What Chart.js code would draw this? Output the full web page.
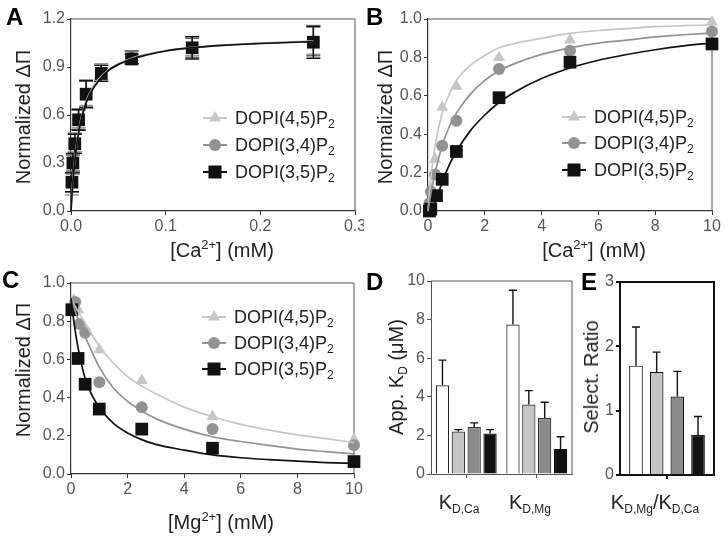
<!DOCTYPE html>
<html>
<head>
<meta charset="utf-8">
<title>DOPI-P2 cation binding</title>
<script src="https://cdn.jsdelivr.net/npm/chart.js@4.4.1/dist/chart.umd.min.js"></script>
<style>
  body { margin: 0; background: #fff; }
  #fig { position: relative; width: 728px; height: 537px; overflow: hidden;
         font-family: "Liberation Sans", Arial, sans-serif; color: #222; }
  #fig canvas { position: absolute; }
  .t { position: absolute; white-space: nowrap; font-size: 20px; line-height: 1; }
  .c { transform: translate(-50%, -50%); }
  .r { transform: translate(-50%, -50%) rotate(-90deg); }
  .panel { position: absolute; font-size: 24px; font-weight: bold; color: #000; line-height: 1; }
  .leg { position: absolute; font-size: 18px; line-height: 1; white-space: nowrap;
         display: flex; align-items: center; }
  .leg svg { margin-right: 7px; }
  sub { font-size: 12px; vertical-align: -4px; line-height: 0; }
  sup { font-size: 13px; vertical-align: 8px; line-height: 0; }
</style>
</head>
<body>
<div id="fig">
  <canvas id="cA" width="364" height="268" style="left:0;top:0"></canvas>
  <canvas id="cB" width="364" height="268" style="left:364px;top:0"></canvas>
  <canvas id="cC" width="364" height="269" style="left:0;top:268px"></canvas>
  <canvas id="cD" width="218" height="269" style="left:364px;top:268px"></canvas>
  <canvas id="cE" width="146" height="269" style="left:582px;top:268px"></canvas>

  <div class="panel" style="left:6px;top:5px">A</div>
  <div class="panel" style="left:366px;top:5px">B</div>
  <div class="panel" style="left:2px;top:268px">C</div>
  <div class="panel" style="left:366px;top:270px">D</div>
  <div class="panel" style="left:581px;top:270px">E</div>

  <div class="t r" style="left:23px;top:117px">Normalized ΔΠ</div>
  <div class="t c" style="left:222px;top:250px">[Ca<sup>2+</sup>] (mM)</div>
  <div class="t r" style="left:385px;top:117px">Normalized ΔΠ</div>
  <div class="t c" style="left:594px;top:250px">[Ca<sup>2+</sup>] (mM)</div>
  <div class="t r" style="left:23px;top:370px">Normalized ΔΠ</div>
  <div class="t c" style="left:221px;top:522px">[Mg<sup>2+</sup>] (mM)</div>
  <div class="t r" style="left:396px;top:377px">App. K<sub>D</sub> (μM)</div>
  <div class="t c" style="left:459px;top:502px">K<sub>D,Ca</sub></div>
  <div class="t c" style="left:530px;top:502px">K<sub>D,Mg</sub></div>
  <div class="t r" style="left:591px;top:377px">Select. Ratio</div>
  <div class="t c" style="left:655px;top:502px">K<sub>D,Mg</sub>/K<sub>D,Ca</sub></div>
</div>

<script>
Chart.defaults.font.family = '"Liberation Sans", Arial, sans-serif';
Chart.defaults.animation = false;

// series names + colours (triangle / circle / square)
const names = ['DOPI(4,5)P', 'DOPI(3,4)P', 'DOPI(3,5)P'];
const cLight = '#c6c6c6', cMid = '#929292', cDark = '#111111';

// ---------- A : low [Ca2+] ----------
const aCa = [0.001, 0.002, 0.004, 0.008, 0.016, 0.032, 0.064, 0.128, 0.256];
const a45 = [0.17, 0.29, 0.43, 0.58, 0.74, 0.87, 0.97, 1.03, 1.07];
const a45Err = [0.07, 0.06, 0.06, 0.06, 0.08, 0.05, 0.03, 0.06, 0.09];
const a34 = [0.18, 0.30, 0.42, 0.57, 0.73, 0.86, 0.96, 1.02, 1.06];
const a34Err = [0.06, 0.05, 0.06, 0.06, 0.08, 0.05, 0.04, 0.06, 0.09];
const a35 = [0.18, 0.30, 0.42, 0.57, 0.73, 0.86, 0.95, 1.02, 1.055];
const a35Err = [0.06, 0.06, 0.06, 0.065, 0.085, 0.05, 0.03, 0.07, 0.1];
// fitted curves
const aFitX = [0, 0.001, 0.002, 0.004, 0.006, 0.008, 0.01, 0.015, 0.02, 0.03, 0.04, 0.05, 0.064, 0.08, 0.1, 0.128, 0.16, 0.2, 0.256];
const a45Fit = [0, 0.11, 0.19, 0.32, 0.42, 0.50, 0.56, 0.67, 0.74, 0.83, 0.885, 0.92, 0.955, 0.98, 1.003, 1.022, 1.037, 1.05, 1.062];
const a34Fit = [0, 0.10, 0.185, 0.315, 0.415, 0.495, 0.555, 0.665, 0.735, 0.825, 0.882, 0.918, 0.952, 0.978, 1.0, 1.021, 1.036, 1.048, 1.06];
const a35Fit = [0, 0.10, 0.18, 0.31, 0.41, 0.49, 0.55, 0.66, 0.73, 0.82, 0.88, 0.915, 0.95, 0.975, 1.0, 1.02, 1.035, 1.047, 1.058];

// ---------- B : full [Ca2+] ----------
const b45X = [0.025, 0.05, 0.1, 0.25, 0.5, 1, 2.5, 5, 10];
const b45 = [0.0, 0.05, 0.12, 0.27, 0.54, 0.65, 0.80, 0.89, 0.985];
const b34X = [0.025, 0.05, 0.1, 0.25, 0.5, 1, 2.5, 5, 10];
const b34 = [0.0, 0.04, 0.10, 0.19, 0.34, 0.47, 0.74, 0.835, 0.935];
const b35X = [0.05, 0.1, 0.3, 0.5, 1, 2.5, 5, 10];
const b35 = [0.0, 0.01, 0.08, 0.165, 0.31, 0.59, 0.775, 0.87];
const bFitX = [0, 0.1, 0.25, 0.5, 0.75, 1, 1.5, 2, 2.5, 3, 4, 5, 6, 7, 8, 9, 10];
const b45Fit = [0, 0.17, 0.34, 0.51, 0.61, 0.68, 0.76, 0.81, 0.85, 0.87, 0.90, 0.925, 0.94, 0.95, 0.96, 0.965, 0.97];
const b34Fit = [0, 0.09, 0.20, 0.34, 0.44, 0.51, 0.61, 0.68, 0.73, 0.765, 0.816, 0.85, 0.874, 0.89, 0.907, 0.918, 0.927];
const b35FitX = [0.15, 0.25, 0.5, 0.75, 1, 1.5, 2, 2.5, 3, 4, 5, 6, 7, 8, 9, 10];
const b35Fit = [0, 0.04, 0.15, 0.24, 0.31, 0.42, 0.50, 0.565, 0.615, 0.69, 0.745, 0.785, 0.815, 0.84, 0.86, 0.875];

// ---------- C : [Mg2+] competition ----------
const c45X = [0.1, 0.25, 0.5, 1, 2.5, 5, 10];
const c45 = [0.91, 0.86, 0.76, 0.65, 0.49, 0.30, 0.18];
const c34X = [0.15, 0.3, 0.5, 1, 2.5, 5, 10];
const c34 = [0.90, 0.785, 0.74, 0.48, 0.35, 0.235, 0.15];
const c35X = [0.03, 0.25, 0.5, 1, 2.5, 5, 10];
const c35 = [0.86, 0.605, 0.47, 0.34, 0.235, 0.135, 0.065];
const cFitX = [0, 0.25, 0.5, 1, 1.5, 2, 2.5, 3, 4, 5, 6, 7, 8, 9, 10];
const c45Fit = [0.92, 0.85, 0.79, 0.67, 0.58, 0.51, 0.46, 0.42, 0.35, 0.30, 0.26, 0.23, 0.205, 0.185, 0.165];
const c34Fit = [0.92, 0.81, 0.72, 0.56, 0.45, 0.38, 0.33, 0.29, 0.235, 0.195, 0.17, 0.15, 0.13, 0.117, 0.105];
const c35FitX = [0, 0.1, 0.25, 0.5, 0.75, 1, 1.5, 2, 2.5, 3, 4, 5, 6, 7, 8, 9, 10];
const c35Fit = [0.92, 0.80, 0.66, 0.50, 0.41, 0.35, 0.265, 0.215, 0.18, 0.155, 0.125, 0.10, 0.085, 0.075, 0.067, 0.06, 0.055];

// ---------- D : apparent KD (uM) ----------
const dCats = ['KD,Ca', 'KD,Mg'];
const dWhite = [4.6, 7.75], dWhiteErr = [1.3, 1.77];
const dLight = [2.2, 3.6], dLightErr = [0.1, 0.72];
const dMid = [2.43, 2.9], dMidErr = [0.22, 0.82];
const dBlack = [2.1, 1.3], dBlackErr = [0.2, 0.63];

// ---------- E : selectivity ratio ----------
const eCats = ['KD,Mg/KD,Ca'];
const eWhite = [1.7], eWhiteErr = [0.6];
const eLight = [1.6], eLightErr = [0.31];
const eMid = [1.22], eMidErr = [0.39];
const eBlack = [0.62], eBlackErr = [0.29];

const pts = (xs, ys) => xs.map((x, i) => ({ x: x, y: ys[i] }));

// error bars drawn through the scales
const errorBars = {
  id: 'errorBars',
  afterDatasetDraw(chart, args) {
    const ds = chart.data.datasets[args.index];
    if (!ds.errUp) return;
    const ys = chart.scales.y, ctx = chart.ctx;
    ctx.save();
    ctx.strokeStyle = ds.errColor;
    ctx.lineWidth = ds.errWidth || 1.4;
    args.meta.data.forEach((el, i) => {
      const raw = ds.data[i];
      const v = typeof raw === 'object' ? raw.y : raw;
      const top = ys.getPixelForValue(v + ds.errUp[i]);
      const bot = ds.errBoth ? ys.getPixelForValue(v - ds.errUp[i]) : el.y;
      const w = ds.capW / 2;
      ctx.beginPath();
      ctx.moveTo(el.x, bot); ctx.lineTo(el.x, top);
      ctx.moveTo(el.x - w, top); ctx.lineTo(el.x + w, top);
      if (ds.errBoth) { ctx.moveTo(el.x - w, bot); ctx.lineTo(el.x + w, bot); }
      ctx.stroke();
    });
    ctx.restore();
  }
};

// top + right border of the plot box
const frame = {
  id: 'frame',
  beforeDatasetsDraw(chart, args, opts) {
    const a = chart.chartArea, ctx = chart.ctx;
    ctx.save();
    ctx.strokeStyle = opts.color || '#444';
    ctx.lineWidth = opts.width || 1;
    ctx.beginPath();
    ctx.moveTo(a.left, a.top); ctx.lineTo(a.right, a.top); ctx.lineTo(a.right, a.bottom);
    ctx.stroke();
    ctx.restore();
  }
};

function axis(opt) {
  const vertical = opt.vertical;
  return {
    type: opt.type || 'linear', min: opt.min, max: opt.max, offset: opt.offset || false,
    border: { color: opt.line || '#333', width: opt.lw || 1.2 },
    grid: { drawOnChartArea: false, tickLength: 4, color: opt.line || '#333', lineWidth: opt.lw || 1, offset: false },
    ticks: {
      display: opt.labels !== false, stepSize: opt.step, padding: 2, autoSkip: false, maxRotation: 0,
      color: '#555', font: { size: 16 },
      callback: opt.type === 'category' ? undefined : (v) => v.toFixed(opt.digits || 0)
    },
    afterFit(s) {
      if (vertical) { s.width = opt.size; s.paddingTop = 0; s.paddingBottom = 0; }
      else { s.height = opt.size; s.paddingLeft = 0; s.paddingRight = 0; }
    }
  };
}

function marker(data, color, style, r, order, err, errColor) {
  return { data: data, showLine: false, pointStyle: style, pointRadius: r, pointHoverRadius: r,
           backgroundColor: color, borderColor: color, borderWidth: 0, clip: false, order: order,
           errUp: err, errBoth: true, capW: 14, errColor: errColor || color };
}
function fitLine(data, color, order) {
  return { data: data, borderColor: color, borderWidth: 1.7, pointRadius: 0, fill: false,
           cubicInterpolationMode: 'monotone', clip: false, order: order };
}

function scatterChart(id, datasets, x, y, pad) {
  return new Chart(document.getElementById(id), {
    type: 'line',
    data: { datasets: datasets },
    options: {
      responsive: false, events: [],
      layout: { padding: pad },
      scales: { x: axis(x), y: axis(Object.assign({ vertical: true }, y)) },
      plugins: { legend: { display: false }, tooltip: { enabled: false }, frame: { color: '#555', width: 1 } }
    },
    plugins: [errorBars, frame]
  });
}

// A
scatterChart('cA', [
  fitLine(pts(aFitX, a35Fit), cDark, 1),
  fitLine(pts(aFitX, a34Fit), cMid, 2),
  fitLine(pts(aFitX, a45Fit), cLight, 3),
  marker(pts(aCa, a35), cDark, 'rect', 9, 4, a35Err, '#111'),
  marker(pts(aCa, a34), cMid, 'circle', 6, 5, a34Err, '#666'),
  marker(pts(aCa, a45), cLight, 'triangle', 7, 6, a45Err, '#999')
], { min: 0, max: 0.3, step: 0.1, digits: 1, size: 57 },
   { min: 0, max: 1.2, step: 0.3, digits: 1, size: 71 },
   { left: 0, top: 19, right: 7, bottom: 0 });

// B
scatterChart('cB', [
  fitLine(pts(b35FitX, b35Fit), cDark, 1),
  fitLine(pts(bFitX, b34Fit), cMid, 2),
  fitLine(pts(bFitX, b45Fit), cLight, 3),
  marker(pts(b35X, b35), cDark, 'rect', 9, 4),
  marker(pts(b34X, b34), cMid, 'circle', 6, 5),
  marker(pts(b45X, b45), cLight, 'triangle', 7, 6)
], { min: 0, max: 10, step: 2, digits: 0, size: 57 },
   { min: 0, max: 1.0, step: 0.2, digits: 1, size: 64 },
   { left: 0, top: 19, right: 16, bottom: 0 });

// C
scatterChart('cC', [
  fitLine(pts(c35FitX, c35Fit), cDark, 1),
  fitLine(pts(cFitX, c34Fit), cMid, 2),
  fitLine(pts(cFitX, c45Fit), cLight, 3),
  marker(pts(c35X, c35), cDark, 'rect', 9, 4),
  marker(pts(c34X, c34), cMid, 'circle', 6, 5),
  marker(pts(c45X, c45), cLight, 'triangle', 7, 6)
], { min: 0, max: 10, step: 2, digits: 0, size: 63 },
   { min: 0, max: 1.0, step: 0.2, digits: 1, size: 71 },
   { left: 0, top: 15, right: 10, bottom: 0 });

function bar(data, fill, err, edge) {
  return { data: data, backgroundColor: fill, borderColor: edge, borderWidth: 1.2,
           errUp: err, errBoth: false, capW: 8, errColor: '#111', errWidth: 1.4 };
}
function barChart(id, cats, sets, y, x, pad, catPct, barPct, line, lw) {
  return new Chart(document.getElementById(id), {
    type: 'bar',
    data: { labels: cats, datasets: sets },
    options: {
      responsive: false, events: [],
      layout: { padding: pad },
      datasets: { bar: { categoryPercentage: catPct, barPercentage: barPct } },
      scales: {
        x: axis(Object.assign({ type: 'category', offset: true, labels: false, line: line, lw: lw }, x)),
        y: axis(Object.assign({ vertical: true, line: line, lw: lw }, y))
      },
      plugins: { legend: { display: false }, tooltip: { enabled: false }, frame: { color: line, width: lw } }
    },
    plugins: [errorBars, frame]
  });
}

// D
barChart('cD', dCats, [
  bar(dWhite, '#ffffff', dWhiteErr, '#222'),
  bar(dLight, '#c4c4c4', dLightErr, '#333'),
  bar(dMid, '#8a8a8a', dMidErr, '#333'),
  bar(dBlack, '#111111', dBlackErr, '#111')
], { min: 0, max: 10, step: 2, size: 67 }, { size: 63 },
   { left: 0, top: 13, right: 10, bottom: 0 }, 0.9, 0.84, '#555', 1);

// E
barChart('cE', eCats, [
  bar(eWhite, '#ffffff', eWhiteErr, '#111'),
  bar(eLight, '#c4c4c4', eLightErr, '#111'),
  bar(eMid, '#8a8a8a', eMidErr, '#111'),
  bar(eBlack, '#111111', eBlackErr, '#111')
], { min: 0, max: 3, step: 1, size: 38 }, { size: 62 },
   { left: 0, top: 14, right: 14, bottom: 0 }, 0.88, 0.66, '#111', 2);

// legends (A, B, C)
const legendSpots = [[203, 118], [203, 145], [203, 172],
                     [562, 117], [562, 143], [562, 170],
                     [202, 317], [202, 343], [202, 369]];
const legShapes = [
  `<line x1="0" y1="11" x2="24" y2="11" stroke="${cLight}" stroke-width="2"/><polygon points="12,4 18,14.5 6,14.5" fill="${cLight}"/>`,
  `<line x1="0" y1="11" x2="24" y2="11" stroke="${cMid}" stroke-width="2"/><circle cx="12" cy="11" r="6" fill="${cMid}"/>`,
  `<line x1="0" y1="11" x2="24" y2="11" stroke="${cDark}" stroke-width="2"/><rect x="5.5" y="4.5" width="13" height="13" fill="${cDark}"/>`
];
const fig = document.getElementById('fig');
legendSpots.forEach((p, i) => {
  const k = i % 3;
  const d = document.createElement('div');
  d.className = 'leg';
  d.style.left = p[0] + 'px';
  d.style.top = (p[1] - 11) + 'px';
  d.innerHTML = `<svg width="25" height="22">${legShapes[k]}</svg><span>${names[k]}<sub>2</sub></span>`;
  fig.appendChild(d);
});
</script>
</body>
</html>
